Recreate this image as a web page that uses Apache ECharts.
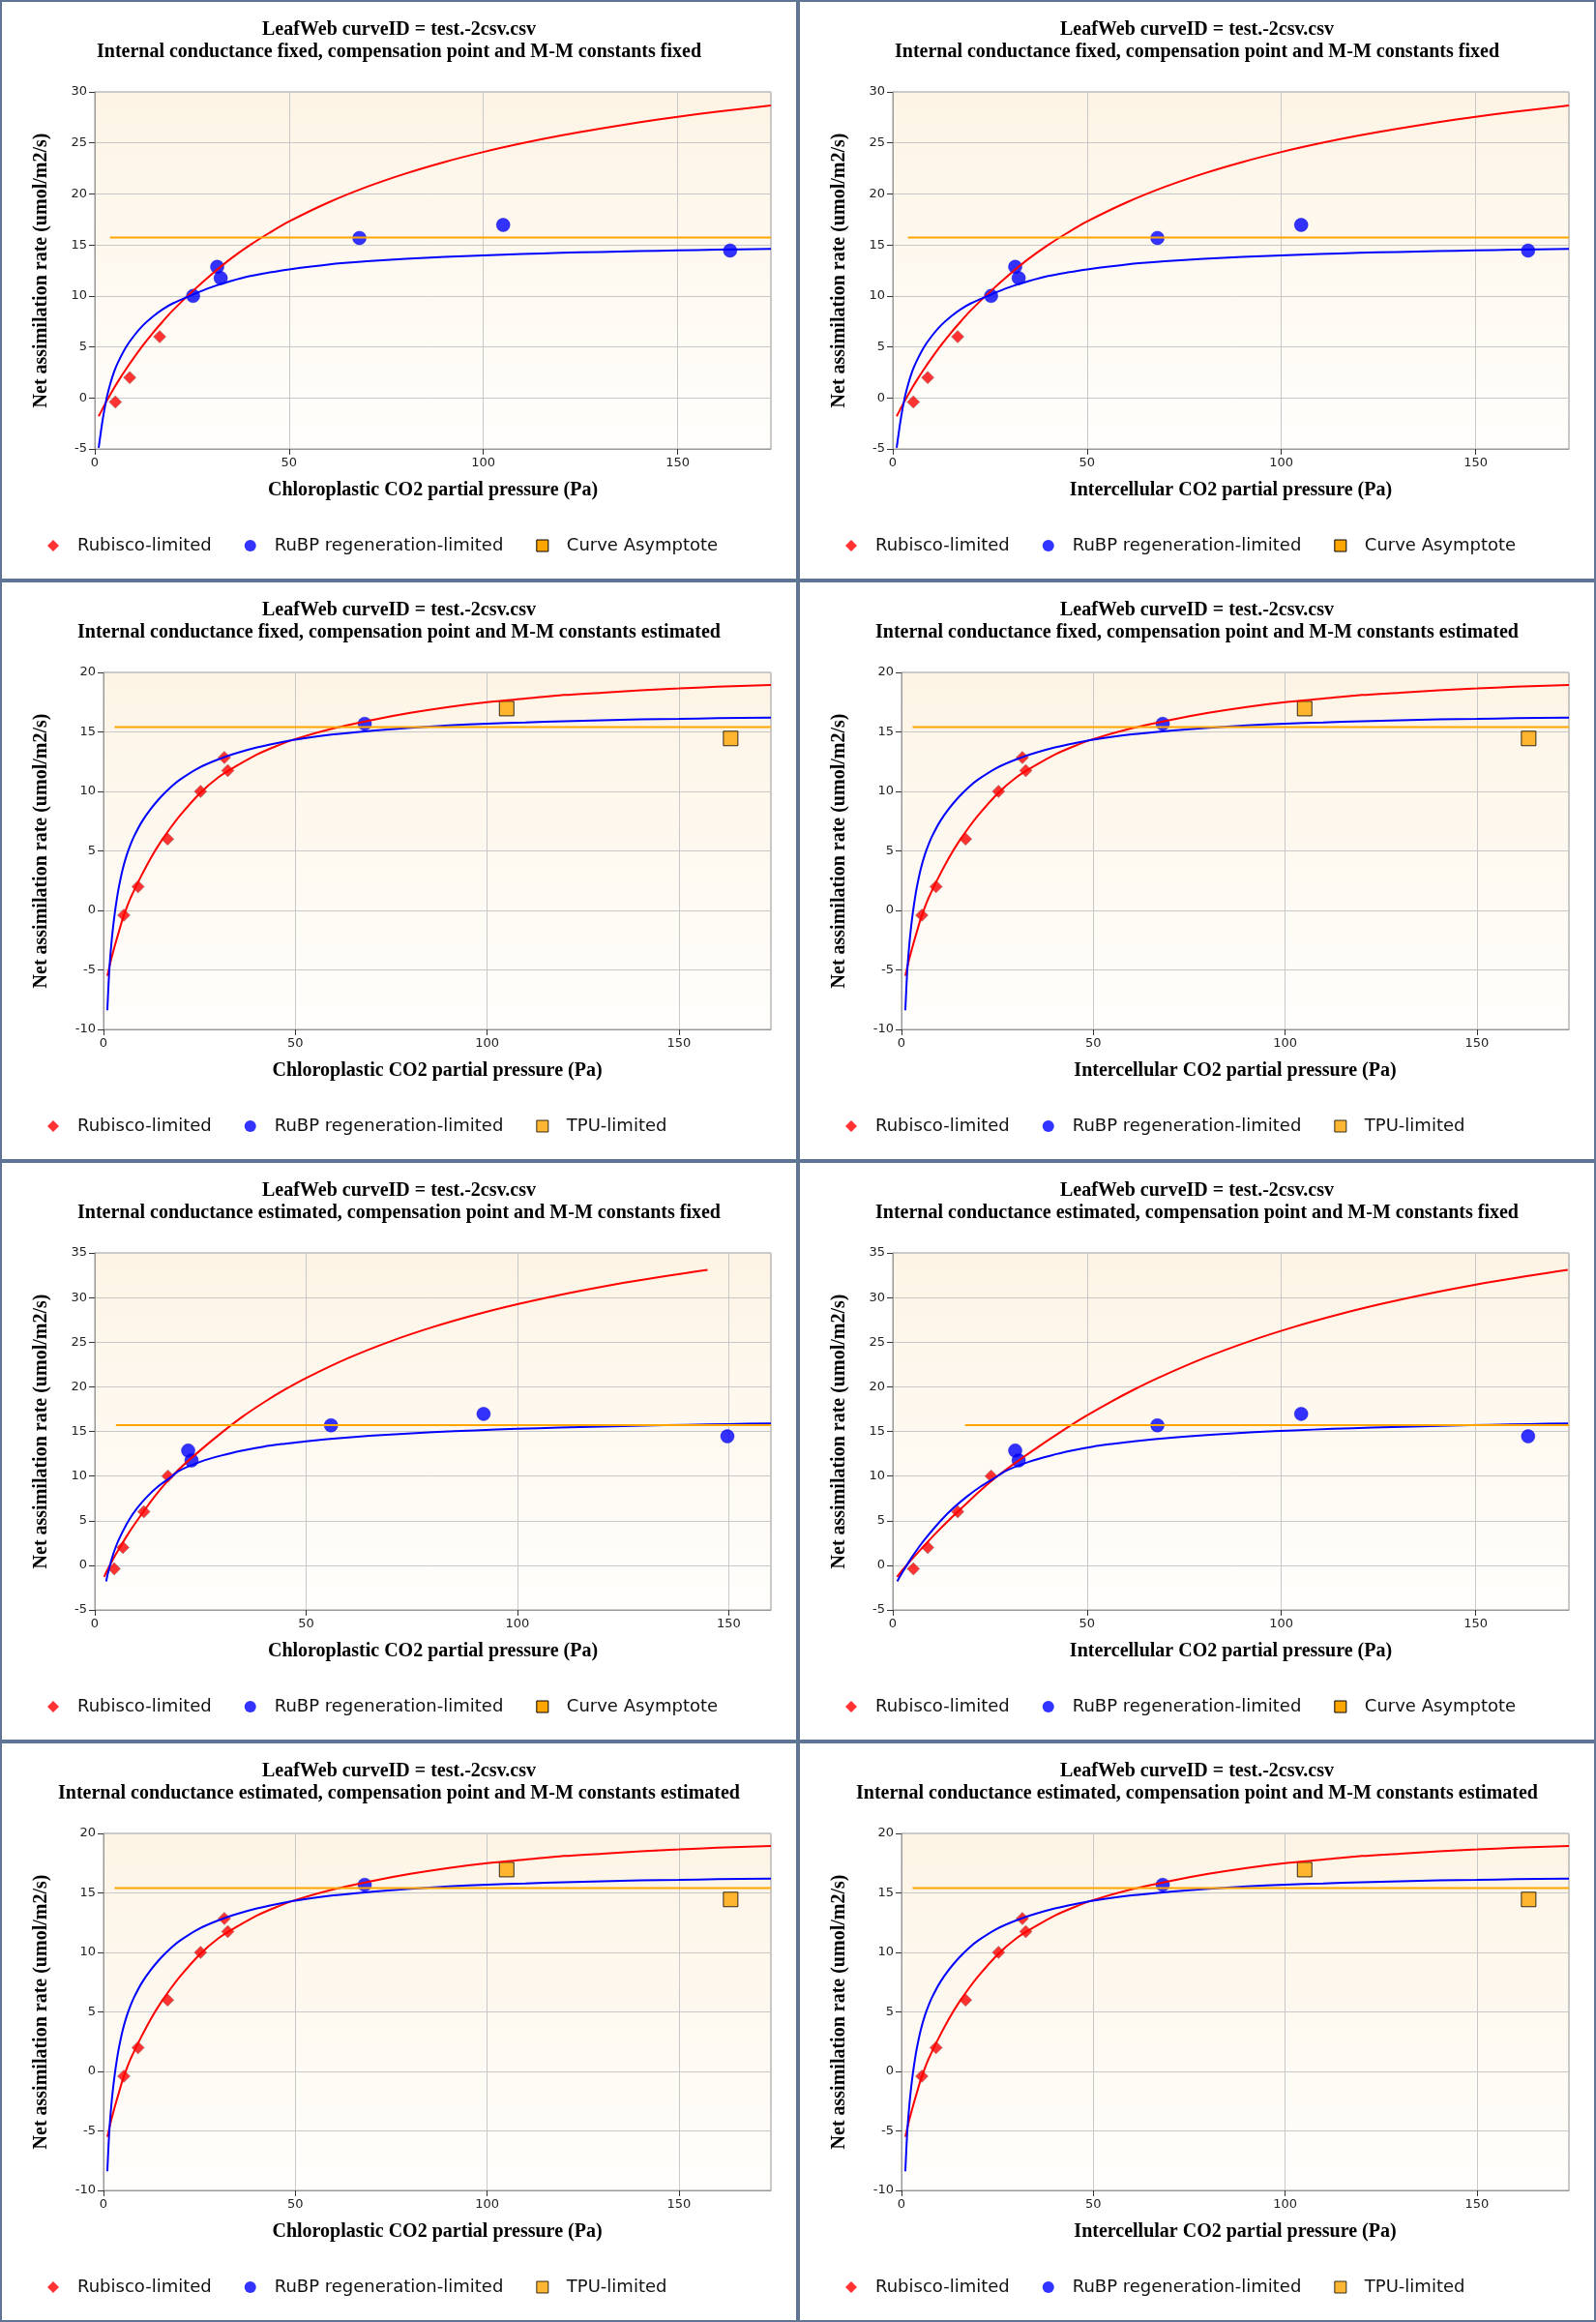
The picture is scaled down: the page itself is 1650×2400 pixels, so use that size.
<!DOCTYPE html>
<html>
<head>
<meta charset="utf-8">
<script src="https://cdn.jsdelivr.net/npm/echarts@6/dist/echarts.min.js"></script>
<style>
  body { margin: 0; background: #fff; }
  #wrap { width: 1650px; height: 2400px; display: flex; flex-wrap: wrap; }
  .panel { width: 825px; height: 600px; box-sizing: border-box; border: 2px solid #5f7593; }
</style>
</head>
<body>
<div id="wrap"></div>
<script>
// observed points: intercellular CO2 (Pa) and net assimilation
var ciObs = [5.3, 9.0, 16.7, 25.3, 31.5, 32.4, 68.1, 105.1, 163.5];
var aObs = [-0.4, 2.0, 6.0, 10.0, 12.85, 11.75, 15.68, 16.96, 14.45];
// same points placed on chloroplastic CO2 when internal conductance is estimated
var ccObsGmEst = [4.6, 6.65, 11.6, 17.3, 22.1, 22.9, 55.9, 92.0, 149.7];

// fitted curves, g fixed / constants fixed
var ffX = [1, 2, 3, 4, 5, 6, 8, 10, 12.5, 15, 17.5, 20, 25, 30, 35, 40, 45, 50, 60, 70, 80, 90, 100, 110, 120, 130, 140, 150, 160, 174];
var ffRubY = [-1.8, -1.05, -0.34, 0.34, 1.0, 1.63, 2.8, 3.9, 5.2, 6.4, 7.5, 8.55, 10.4, 12.1, 13.65, 15.0, 16.2, 17.3, 19.14, 20.69, 22.0, 23.13, 24.11, 24.97, 25.73, 26.4, 27.01, 27.56, 28.05, 28.67];
var ffRubpY = [-4.9, -2.2, -0.1, 1.4, 2.6, 3.5, 4.95, 6.05, 7.15, 8.0, 8.7, 9.25, 10.1, 10.85, 11.45, 11.95, 12.3, 12.6, 13.07, 13.39, 13.63, 13.82, 13.98, 14.11, 14.22, 14.31, 14.39, 14.46, 14.53, 14.6];

// fitted curves, constants estimated
var eeRubX = [1, 1.5, 2, 2.5, 3, 4, 5, 6, 7, 8, 10, 12.5, 15, 17.5, 20, 25, 30, 35, 40, 45, 50, 60, 70, 80, 90, 100, 110, 120, 130, 140, 150, 160, 174];
var eeRubY = [-5.5, -4.8, -4.1, -3.5, -2.9, -1.8, -0.7, 0.2, 1.0, 1.7, 3.0, 4.5, 5.8, 6.95, 8.0, 9.8, 11.2, 12.2, 13.1, 13.8, 14.4, 15.3, 16.0, 16.6, 17.1, 17.5, 17.8, 18.1, 18.3, 18.5, 18.65, 18.8, 18.95];
var eeRubpX = [1, 1.5, 2, 2.5, 3, 3.5, 4, 5, 6, 7, 8, 10, 12.5, 15, 17.5, 20, 25, 30, 35, 40, 45, 50, 60, 70, 80, 90, 100, 110, 120, 130, 140, 150, 160, 174];
var eeRubpY = [-8.4, -5.1, -3.0, -1.4, -0.1, 1.0, 1.95, 3.45, 4.6, 5.5, 6.25, 7.45, 8.6, 9.55, 10.35, 11.0, 12.0, 12.7, 13.25, 13.7, 14.05, 14.35, 14.8, 15.1, 15.35, 15.55, 15.7, 15.8, 15.9, 15.98, 16.05, 16.1, 16.15, 16.2];

// fitted curves, g estimated / constants fixed (chloroplastic)
var geRubX = [2.2, 3, 4, 5, 6, 8, 10, 12.5, 15, 17.5, 20, 25, 30, 35, 40, 45, 50, 60, 70, 80, 90, 100, 110, 120, 130, 140, 145];
var geRubY = [-1.3, -0.5, 0.4, 1.25, 2.05, 3.6, 5.0, 6.65, 8.2, 9.6, 10.8, 12.9, 14.85, 16.66, 18.25, 19.69, 20.98, 23.22, 25.1, 26.69, 28.06, 29.25, 30.29, 31.21, 32.03, 32.76, 33.1];
var geRubpX = [2.7, 3, 4, 5, 6, 8, 10, 12.5, 15, 17.5, 20, 25, 30, 35, 40, 45, 50, 60, 70, 80, 90, 100, 110, 120, 130, 140, 150, 160];
var geRubpY = [-1.8, -1.1, 0.7, 2.1, 3.2, 5.0, 6.4, 7.75, 8.85, 9.7, 10.6, 11.6, 12.3, 12.85, 13.3, 13.62, 13.9, 14.33, 14.66, 14.91, 15.11, 15.29, 15.43, 15.55, 15.65, 15.74, 15.82, 15.9];
// same curves on intercellular CO2
var giRubX = [1.1, 2.57, 4.35, 6.08, 7.78, 11.1, 14.3, 18.3, 22.1, 25.83, 29.37, 36.2, 42.88, 49.45, 55.83, 62.08, 68.2, 80.14, 91.77, 103.15, 114.34, 125.37, 136.27, 147.07, 157.78, 168.41, 173.7];
var giRubpX = [1.14, 2.05, 4.61, 6.82, 8.78, 12.34, 15.55, 19.22, 22.68, 25.91, 29.19, 35.06, 40.67, 46.14, 51.54, 56.81, 62.06, 72.43, 82.71, 92.93, 103.1, 113.26, 123.38, 133.49, 143.57, 153.65, 163.72, 173.79];

// horizontal asymptote lines: [xStart, xEnd, y]
var asymFF = [3.9, 174, 15.73];
var asymEE = [2.9, 174, 15.4];
var asymGC = [5.0, 160, 15.7];
var asymGI = [18.6, 174, 15.7];

var titleTop = 'LeafWeb curveID = test.-2csv.csv';
var xNameCc = 'Chloroplastic CO2 partial pressure (Pa)';
var xNameCi = 'Intercellular CO2 partial pressure (Pa)';
var yName = 'Net assimilation rate (umol/m2/s)';

function pairs(xs, ys, from, to) {
  var out = [];
  for (var i = from; i < to; i++) out.push([xs[i], ys[i]]);
  return out;
}

var serif = '"Liberation Serif", "Times New Roman", serif';
var sans = '"DejaVu Sans", Verdana, sans-serif';

var panels = [
  { sub: 'Internal conductance fixed, compensation point and M-M constants fixed', xName: xNameCc, xMax: 174, yMin: -5, yMax: 30,
    rubX: ffX, rubY: ffRubY, rubpX: ffX, rubpY: ffRubpY, obsX: ciObs, split: [3, 9, 9], asym: asymFF, third: 'Curve Asymptote' },
  { sub: 'Internal conductance fixed, compensation point and M-M constants fixed', xName: xNameCi, xMax: 174, yMin: -5, yMax: 30,
    rubX: ffX, rubY: ffRubY, rubpX: ffX, rubpY: ffRubpY, obsX: ciObs, split: [3, 9, 9], asym: asymFF, third: 'Curve Asymptote' },
  { sub: 'Internal conductance fixed, compensation point and M-M constants estimated', xName: xNameCc, xMax: 174, yMin: -10, yMax: 20,
    rubX: eeRubX, rubY: eeRubY, rubpX: eeRubpX, rubpY: eeRubpY, obsX: ciObs, split: [6, 7, 9], asym: asymEE, third: 'TPU-limited' },
  { sub: 'Internal conductance fixed, compensation point and M-M constants estimated', xName: xNameCi, xMax: 174, yMin: -10, yMax: 20,
    rubX: eeRubX, rubY: eeRubY, rubpX: eeRubpX, rubpY: eeRubpY, obsX: ciObs, split: [6, 7, 9], asym: asymEE, third: 'TPU-limited' },
  { sub: 'Internal conductance estimated, compensation point and M-M constants fixed', xName: xNameCc, xMax: 160, yMin: -5, yMax: 35,
    rubX: geRubX, rubY: geRubY, rubpX: geRubpX, rubpY: geRubpY, obsX: ccObsGmEst, split: [4, 9, 9], asym: asymGC, third: 'Curve Asymptote' },
  { sub: 'Internal conductance estimated, compensation point and M-M constants fixed', xName: xNameCi, xMax: 174, yMin: -5, yMax: 35,
    rubX: giRubX, rubY: geRubY, rubpX: giRubpX, rubpY: geRubpY, obsX: ciObs, split: [4, 9, 9], asym: asymGI, third: 'Curve Asymptote' },
  { sub: 'Internal conductance estimated, compensation point and M-M constants estimated', xName: xNameCc, xMax: 174, yMin: -10, yMax: 20,
    rubX: eeRubX, rubY: eeRubY, rubpX: eeRubpX, rubpY: eeRubpY, obsX: ciObs, split: [6, 7, 9], asym: asymEE, third: 'TPU-limited' },
  { sub: 'Internal conductance estimated, compensation point and M-M constants estimated', xName: xNameCi, xMax: 174, yMin: -10, yMax: 20,
    rubX: eeRubX, rubY: eeRubY, rubpX: eeRubpX, rubpY: eeRubpY, obsX: ciObs, split: [6, 7, 9], asym: asymEE, third: 'TPU-limited' }
];

function makeOption(p) {
  var s = p.split;
  var wide = p.yMin == -10;
  var series = [
    { name: 'Rubisco-limited', type: 'scatter', symbol: 'diamond', symbolSize: 13, z: 2,
      itemStyle: { color: '#ff0000', borderColor: '#777', borderWidth: 0.6 },
      data: pairs(p.obsX, aObs, 0, s[0]) },
    { name: 'RuBP regeneration-limited', type: 'scatter', symbol: 'circle', symbolSize: 14, z: 2,
      itemStyle: { color: '#0000ff', borderColor: '#0000cc', borderWidth: 0.5 },
      data: pairs(p.obsX, aObs, s[0], s[1]) },
    { name: 'rubiscoCurve', type: 'line', smooth: 0.3, showSymbol: false, z: 3,
      lineStyle: { color: '#ff0000', width: 2 }, data: pairs(p.rubX, p.rubY, 0, p.rubX.length) },
    { name: 'rubpCurve', type: 'line', smooth: 0.3, showSymbol: false, z: 3,
      lineStyle: { color: '#0000ff', width: 2 }, data: pairs(p.rubpX, p.rubpY, 0, p.rubpX.length) },
    { name: p.third == 'Curve Asymptote' ? 'Curve Asymptote' : 'asym', type: 'line', showSymbol: false, z: 4,
      itemStyle: { color: '#ffa500' },
      lineStyle: { color: '#ffa500', width: 2 }, data: [[p.asym[0], p.asym[2]], [p.asym[1], p.asym[2]]] }
  ];
  if (p.third == 'TPU-limited') {
    series.push({ name: 'TPU-limited', type: 'scatter', symbol: 'rect', symbolSize: 15, z: 2,
      itemStyle: { color: '#ffa500', borderColor: '#000', borderWidth: 1 },
      data: pairs(p.obsX, aObs, s[1], s[2]) });
  }
  return {
    animation: false,
    title: {
      text: titleTop + '\n' + p.sub, left: 'center', top: 12,
      textStyle: { fontFamily: serif, fontWeight: 'bold', fontSize: 20, lineHeight: 23, color: '#000' }
    },
    legend: {
      left: 42, top: 548, itemWidth: 12, itemHeight: 12, itemGap: 34, selectedMode: false,
      textStyle: { fontFamily: sans, fontSize: 18, color: '#111', padding: [0, 0, 0, 14] },
      data: [
        { name: 'Rubisco-limited', icon: 'diamond', itemStyle: { color: '#ff0000', borderWidth: 0 } },
        { name: 'RuBP regeneration-limited', icon: 'circle', itemStyle: { color: '#0000ff', borderWidth: 0 } },
        { name: p.third, icon: 'rect', itemStyle: { color: '#ffa500', borderColor: '#000', borderWidth: 1 } }
      ]
    },
    grid: {
      left: wide ? 105 : 96, right: 26, top: 93, bottom: 134, show: true,
      borderColor: '#999', borderWidth: 1,
      backgroundColor: { type: 'linear', x: 0, y: 0, x2: 0, y2: 1,
        colorStops: [{ offset: 0, color: '#fdf4e5' }, { offset: 1, color: '#fffefc' }] }
    },
    xAxis: {
      type: 'value', min: 0, max: p.xMax, interval: 50,
      name: p.xName, nameLocation: 'middle', nameGap: 33,
      nameTextStyle: { fontFamily: serif, fontWeight: 'bold', fontSize: 20, color: '#000' },
      axisLine: { show: true, onZero: false, lineStyle: { color: '#999' } },
      axisTick: { show: true, length: 6, lineStyle: { color: '#333' } },
      axisLabel: { fontFamily: sans, fontSize: 13, color: '#222', margin: 8, showMaxLabel: false },
      splitLine: { show: true, lineStyle: { color: '#c8c8c8' } }
    },
    yAxis: {
      type: 'value', min: p.yMin, max: p.yMax, interval: 5,
      name: yName, nameLocation: 'middle', nameGap: wide ? 54 : 45,
      nameTextStyle: { fontFamily: serif, fontWeight: 'bold', fontSize: 20, color: '#000' },
      axisLine: { show: true, onZero: false, lineStyle: { color: '#999' } },
      axisTick: { show: true, length: 6, lineStyle: { color: '#333' } },
      axisLabel: { fontFamily: sans, fontSize: 13, color: '#222', margin: 8 },
      splitLine: { show: true, lineStyle: { color: '#c8c8c8' } }
    },
    series: series
  };
}

var wrap = document.getElementById('wrap');
panels.forEach(function(p) {
  var el = document.createElement('div');
  el.className = 'panel';
  wrap.appendChild(el);
  var chart = echarts.init(el);
  chart.setOption(makeOption(p));
});
</script>
</body>
</html>
